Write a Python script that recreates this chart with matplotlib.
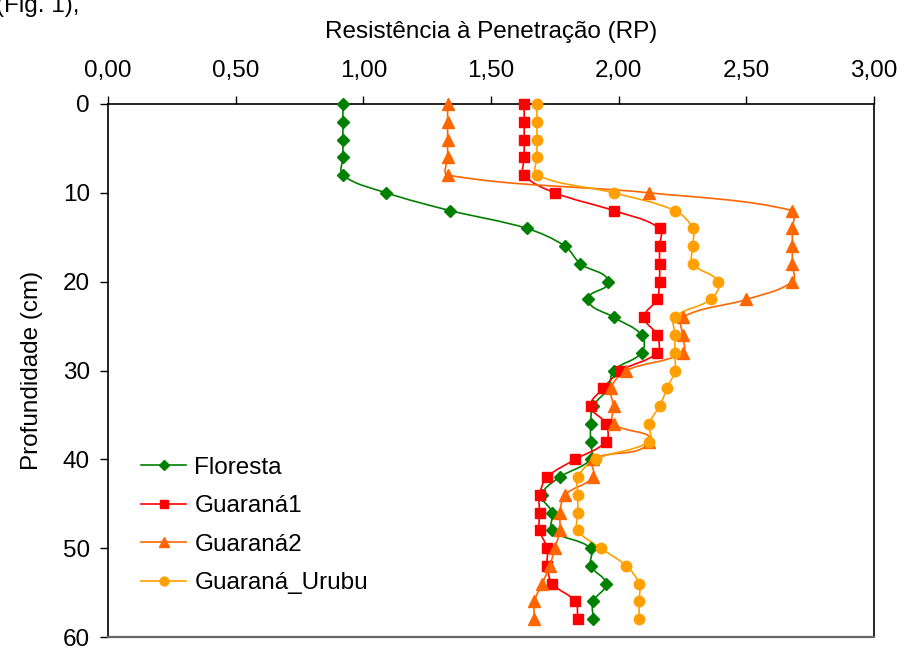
import numpy as np
import matplotlib
matplotlib.use("Agg")
import matplotlib.pyplot as plt
from matplotlib.path import Path
from matplotlib.patches import PathPatch
from matplotlib.lines import Line2D

plt.rcParams["font.family"] = ["Liberation Sans", "DejaVu Sans"]

depth = list(range(0, 60, 2))

floresta = [0.92, 0.92, 0.92, 0.92, 0.92, 1.09, 1.34, 1.64, 1.79, 1.85,
            1.96, 1.88, 1.98, 2.09, 2.09, 1.98, 1.96, 1.90, 1.89, 1.89,
            1.89, 1.77, 1.70, 1.74, 1.74, 1.89, 1.89, 1.95, 1.90, 1.90]
guarana1 = [1.63, 1.63, 1.63, 1.63, 1.63, 1.75, 1.98, 2.16, 2.16, 2.16,
            2.16, 2.15, 2.10, 2.15, 2.15, 2.01, 1.94, 1.89, 1.95, 1.95,
            1.83, 1.72, 1.69, 1.69, 1.69, 1.72, 1.72, 1.74, 1.83, 1.84]
guarana2 = [1.33, 1.33, 1.33, 1.33, 1.33, 2.12, 2.68, 2.68, 2.68, 2.68,
            2.68, 2.50, 2.25, 2.25, 2.25, 2.03, 1.97, 1.98, 1.98, 2.12,
            1.90, 1.90, 1.79, 1.77, 1.77, 1.75, 1.73, 1.70, 1.67, 1.67]
guarana_urubu = [1.68, 1.68, 1.68, 1.68, 1.68, 1.98, 2.22, 2.29, 2.29, 2.29,
                 2.39, 2.36, 2.22, 2.22, 2.22, 2.22, 2.19, 2.16, 2.12, 2.12,
                 1.91, 1.84, 1.84, 1.84, 1.84, 1.93, 2.03, 2.08, 2.08, 2.08]

labels = ["Floresta", "Guaraná1", "Guaraná2", "Guaraná_Urubu"]
x_ticks = [0.0, 0.5, 1.0, 1.5, 2.0, 2.5, 3.0]
x_ticklabels = ["0,00", "0,50", "1,00", "1,50", "2,00", "2,50", "3,00"]
y_ticks = [0, 10, 20, 30, 40, 50, 60]

series = [floresta, guarana1, guarana2, guarana_urubu]
colors = ["#008000", "#FF0000", "#FF6600", "#FFA000"]
markers = ["D", "s", "^", "o"]
msizes = [6.5, 7.5, 8.5, 7.5]
fs = 17.5


def smooth_path(ax, xs, ys):
    # Excel-like smoothed line, built in screen space so the
    # control arms follow the length of each segment
    tr = ax.transData
    pts = tr.transform(np.column_stack([xs, ys]).astype(float))
    n = len(pts)

    def unit(v):
        L = np.hypot(*v)
        return v / L if L > 0 else v * 0

    verts = [pts[0]]
    codes = [Path.MOVETO]
    for i in range(n - 1):
        p0 = pts[max(i - 1, 0)]
        p1 = pts[i]
        p2 = pts[i + 1]
        p3 = pts[min(i + 2, n - 1)]
        seg = np.hypot(*(p2 - p1))
        c1 = p1 + unit(p2 - p0) * seg / 3.0
        c2 = p2 - unit(p3 - p1) * seg / 3.0
        verts += [c1, c2, p2]
        codes += [Path.CURVE4] * 3
    verts = tr.inverted().transform(np.array(verts))
    return Path(verts, codes)


fig = plt.figure(figsize=(9.02, 6.52), dpi=100)
ax = fig.add_axes([108 / 902, 1 - 637 / 652, 766 / 902, 533 / 652])
ax.set_xlim(0, 3)
ax.set_ylim(60, 0)

handles = []
for vals, c, m, ms, lab in zip(series, colors, markers, msizes, labels):
    ax.add_patch(PathPatch(smooth_path(ax, vals, depth), fill=False,
                           edgecolor=c, lw=1.2, zorder=2))
    ax.plot(vals, depth, ls="none", marker=m, ms=ms, color=c,
            markeredgecolor=c, zorder=3, clip_on=False)
    handles.append(Line2D([], [], color=c, lw=1.2, marker=m, ms=ms * 0.85,
                          markeredgecolor=c))

ax.xaxis.tick_top()
ax.xaxis.set_label_position("top")
ax.set_xticks(x_ticks)
ax.set_xticklabels(x_ticklabels)
ax.set_yticks(y_ticks)
ax.tick_params(axis="x", length=6, width=1, pad=10, labelsize=fs)
ax.tick_params(axis="y", length=6, width=1, pad=7, labelsize=fs)
ax.set_xlabel("Resistência à Penetração (RP)", fontsize=fs, labelpad=16)
ax.set_ylabel("Profundidade (cm)", fontsize=fs, labelpad=14)

for s in ax.spines.values():
    s.set_linewidth(1.2)
ax.spines["bottom"].set_color("#666666")
ax.spines["bottom"].set_linewidth(1.6)

ax.legend(handles, labels, loc="lower left", bbox_to_anchor=(0.031, 0.062),
          frameon=False, fontsize=fs, handlelength=1.85, handletextpad=0.33,
          labelspacing=0.68, borderaxespad=0)

fig.text(-0.004, 0.982, "(Fig. 1),", fontsize=fs, ha="left", va="baseline")

fig.savefig("out.png", dpi=100)
